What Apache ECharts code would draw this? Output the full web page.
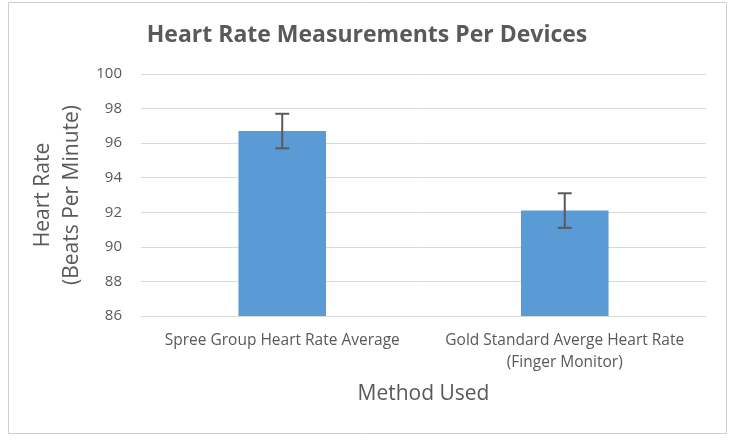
<!DOCTYPE html>
<html><head><meta charset="utf-8">
<script src="https://cdn.jsdelivr.net/npm/echarts@6/dist/echarts.min.js"></script>
<style>html,body{margin:0;padding:0;background:#fff}#c{width:734px;height:441px}</style>
</head><body><div id="c"></div>
<script>
const categories = ['Spree Group Heart Rate Average', 'Gold Standard Averge Heart Rate\n(Finger Monitor)'];
const values = [96.7, 92.1];
const errors = [1.0, 1.0];
const yTicks = [86, 88, 90, 92, 94, 96, 98, 100];

const FONT = 'Open Sans';
const chart = echarts.init(document.getElementById('c'));
chart.setOption({
  animation: false,
  backgroundColor: '#fff',
  title: {
    text: 'Heart Rate Measurements Per Devices',
    left: 'center', top: 19,
    textStyle: { fontFamily: FONT, fontSize: 23, fontWeight: 'bold', color: '#595959' }
  },
  graphic: [
    { type: 'rect', shape: { x: 8.5, y: 2.5, width: 718, height: 431 }, style: { fill: 'none', stroke: '#d0d0d0', lineWidth: 1 }, silent: true },
    { type: 'text', x: 58, y: 195, rotation: Math.PI / 2, silent: true,
      style: { text: 'Heart Rate\n(Beats Per Minute)', align: 'center', verticalAlign: 'middle', fontFamily: FONT, fontSize: 21, lineHeight: 29, fill: '#595959' } }
  ],
  grid: { left: 141, right: 28, top: 74, bottom: 125 },
  xAxis: {
    type: 'category', data: categories,
    name: 'Method Used', nameLocation: 'middle', nameGap: 68,
    nameTextStyle: { fontFamily: FONT, fontSize: 21, color: '#595959' },
    axisLine: { show: true, lineStyle: { color: '#d9d9d9', width: 1 } },
    axisTick: { show: false },
    axisLabel: { fontFamily: FONT, fontSize: 15.5, color: '#595959', margin: 14, lineHeight: 22, interval: 0 }
  },
  yAxis: {
    type: 'value', min: 86, max: 100, interval: 2,
    axisLine: { show: false }, axisTick: { show: false },
    axisLabel: { fontFamily: FONT, fontSize: 15, color: '#595959', margin: 19,
      formatter: v => yTicks.includes(v) ? String(v) : '' },
    splitLine: { lineStyle: { color: '#d9d9d9', width: 1 } }
  },
  series: [
    {
      type: 'bar', data: values, barWidth: '31%',
      itemStyle: { color: '#5b9bd5' }
    },
    {
      type: 'custom',
      data: values.map((v, i) => [i, v - errors[i], v + errors[i]]),
      renderItem: function (params, api) {
        const lo = api.coord([api.value(0), api.value(1)]);
        const hi = api.coord([api.value(0), api.value(2)]);
        const hw = 7;
        const st = { stroke: '#595959', lineWidth: 2 };
        return { type: 'group', children: [
          { type: 'line', shape: { x1: lo[0], y1: lo[1], x2: hi[0], y2: hi[1] }, style: st },
          { type: 'line', shape: { x1: hi[0] - hw, y1: hi[1], x2: hi[0] + hw, y2: hi[1] }, style: st },
          { type: 'line', shape: { x1: lo[0] - hw, y1: lo[1], x2: lo[0] + hw, y2: lo[1] }, style: st }
        ]};
      },
      z: 10
    }
  ]
});
</script></body></html>
